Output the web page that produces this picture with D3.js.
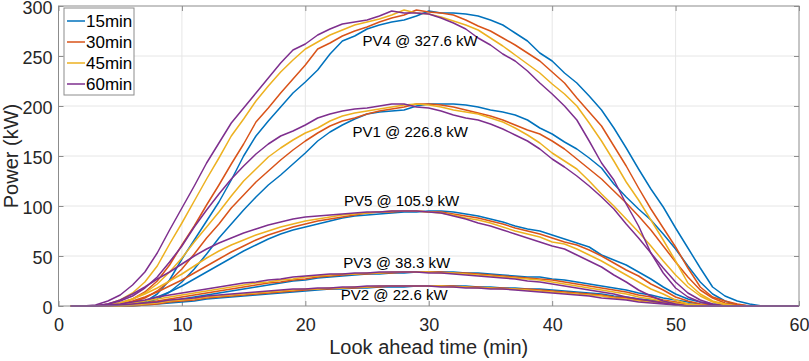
<!DOCTYPE html>
<html>
<head>
<meta charset="utf-8">
<script src="https://cdn.jsdelivr.net/npm/d3@7"></script>
<style>
  body { margin: 0; background: #fff; }
  svg { display: block; }
</style>
</head>
<body>
<div id="chart"></div>
<script>
// look ahead time (min)
const minutes = [1,2,3,4,5,6,7,8,9,10,11,12,13,14,15,16,17,18,19,20,21,22,23,24,25,26,27,28,29,30,
  31,32,33,34,35,36,37,38,39,40,41,42,43,44,45,46,47,48,49,50,51,52,53,54,55,56,57,58,59,60];

// power (kW) per PV system and forecast horizon
const pv4_15 = [0,0,0,0,0,1,4,12,26,47, 66,85,104,126,150,170,185,199,213,224, 236,252,265,270,277,281,284,286,290,295,
  293,293,292,290,286,281,273,265,253,245, 233,223,210,196,178,158,137,117,99,78, 58,38,19,10,5,2,0,0,0,0];
const pv4_30 = [0,0,0,1,3,7,14,25,41,61, 80,101,121,142,162,184,198,213,227,241, 257,263,270,275,279,284,288,291,296,294,
  293,291,286,280,275,268,261,253,245,234, 223,208,194,180,160,140,118,97,78,59, 38,19,9,5,2,0,0,0,0,0];
const pv4_45 = [0,0,0,2,6,13,24,40,62,83, 105,127,148,170,187,205,220,234,246,257, 264,271,276,281,284,287,291,296,293,292,
  289,285,281,276,268,260,251,242,233,222, 212,200,183,165,145,124,106,86,66,45, 23,12,5,2,0,0,0,0,0,0];
const pv4_60 = [0,0,1,5,11,21,34,53,76,98, 120,143,163,183,198,213,228,243,256,262, 271,277,282,284,286,290,295,293,293,292,
  288,283,277,268,261,252,245,235,223,212, 200,186,165,143,126,102,80,53,33,18, 9,4,1,0,0,0,0,0,0,0];

const pv1_15 = [0,0,0,0,0,1,3,7,14,24, 37,52,68,82,96,109,121,131,142,153, 165,174,181,187,192,194,195,196,200,202,
  202,202,201,199,196,194,191,186,178,172, 164,157,148,138,122,109,97,86,72,57, 40,24,12,5,1,0,0,0,0,0];
const pv1_30 = [0,0,0,0,1,4,8,15,25,37, 52,68,82,98,111,124,135,146,156,165, 173,180,185,188,192,195,197,199,202,202,
  201,199,196,193,190,186,181,176,172,165, 157,147,137,127,115,103,90,76,60,44, 29,16,8,3,1,0,0,0,0,0];
const pv1_45 = [0,0,0,1,3,7,13,22,34,48, 64,79,94,110,125,137,149,158,166,173, 178,185,190,193,195,197,199,201,202,201,
  199,196,194,192,188,184,178,171,163,153, 145,137,125,112,100,87,74,60,45,31, 19,10,4,1,0,0,0,0,0,0];
const pv1_60 = [0,0,0,2,5,10,18,29,44,60, 79,96,112,127,140,152,162,170,175,181, 188,192,195,197,198,200,202,202,199,198,
  195,191,188,186,182,177,171,165,157,147, 139,130,120,109,97,82,68,53,38,24, 13,6,2,0,0,0,0,0,0,0];

const pv5_15 = [0,0,0,0,0,2,5,9,14,20, 27,34,41,48,55,61,67,72,76,79, 82,85,88,90,91,92,93,94,94,95,
  95,94,92,90,87,84,80,77,75,71, 67,63,59,51,46,41,34,27,19,12, 7,4,2,1,0,0,0,0,0,0];
const pv5_30 = [0,0,0,0,2,5,9,14,20,26, 33,40,47,54,60,66,71,75,79,82, 85,87,89,91,93,94,94,95,95,94,
  94,92,90,88,85,82,78,75,72,68, 64,61,56,50,43,36,30,22,16,9, 5,2,1,0,0,0,0,0,0,0];
const pv5_45 = [0,0,0,1,3,7,12,18,25,32, 40,48,55,61,66,71,75,79,82,85, 87,89,91,92,93,94,95,95,95,94,
  93,91,88,86,83,79,75,72,69,64, 62,57,51,45,38,31,24,17,12,6, 2,1,0,0,0,0,0,0,0,0];
const pv5_60 = [0,0,0,2,6,12,19,27,34,42, 50,57,63,68,73,77,81,84,87,89, 90,91,92,93,94,94,95,95,95,94,
  93,90,87,83,80,76,72,68,64,60, 57,51,45,39,31,24,16,10,5,2, 0,0,0,0,0,0,0,0,0,0];

const pv3_15 = [0,0,0,0,0,1,2,4,5,7, 9,11,13,15,17,19,21,23,25,26, 28,29,30,31,32,32,33,33,34,34,
  34,34,33,33,32,31,30,29,29,27, 26,24,22,20,18,16,13,11,8,6, 4,2,1,0,0,0,0,0,0,0];
const pv3_30 = [0,0,0,0,0,2,3,5,7,9, 11,13,15,17,19,21,23,24,26,27, 29,30,31,32,32,33,33,34,34,34,
  34,33,33,32,31,30,29,28,27,26, 24,22,20,18,16,14,11,9,6,4, 2,1,0,0,0,0,0,0,0,0];
const pv3_45 = [0,0,0,0,1,3,5,7,9,11, 13,15,17,19,21,23,24,26,27,29, 30,31,32,32,33,33,34,34,34,34,
  33,33,32,31,30,29,28,27,26,24, 22,20,18,16,14,12,9,7,5,3, 1,0,0,0,0,0,0,0,0,0];
const pv3_60 = [0,0,0,1,2,4,6,9,11,13, 15,17,19,21,23,24,26,27,29,30, 31,32,32,33,33,34,34,34,34,33,
  33,32,31,30,29,28,27,25,24,22, 20,18,16,14,12,9,7,5,3,1, 0,0,0,0,0,0,0,0,0,0];

const pv2_15 = [0,0,0,0,0,0,1,2,3,4, 5,7,8,9,10,11,12,13,14,15, 16,17,17,18,18,19,19,19,20,20,
  20,20,20,19,19,18,18,17,17,16, 15,14,13,12,10,9,7,6,4,3, 2,1,0,0,0,0,0,0,0,0];
const pv2_30 = [0,0,0,0,0,0,1,2,4,5, 6,8,9,10,11,12,13,14,15,16, 17,17,18,18,19,19,20,20,20,20,
  20,20,19,19,18,18,17,17,16,15, 14,13,12,11,9,8,6,5,4,2, 1,1,0,0,0,0,0,0,0,0];
const pv2_45 = [0,0,0,0,0,1,2,3,5,6, 7,9,10,11,12,13,14,15,16,17, 17,18,18,19,19,20,20,20,20,20,
  20,19,19,18,18,17,17,16,15,14, 13,12,11,10,8,7,5,4,3,2, 1,0,0,0,0,0,0,0,0,0];
const pv2_60 = [0,0,0,0,1,2,3,4,6,7, 8,10,11,12,13,14,15,16,17,17, 18,18,19,19,20,20,20,20,20,20,
  19,19,18,18,17,17,16,15,14,13, 12,11,10,8,7,6,4,3,2,1, 0,0,0,0,0,0,0,0,0,0];

const horizons = ['15min', '30min', '45min', '60min'];
const colors = ['#0072BD', '#D95319', '#EDB120', '#7E2F8E'];
const seriesByHorizon = [
  [pv4_15, pv1_15, pv5_15, pv3_15, pv2_15],
  [pv4_30, pv1_30, pv5_30, pv3_30, pv2_30],
  [pv4_45, pv1_45, pv5_45, pv3_45, pv2_45],
  [pv4_60, pv1_60, pv5_60, pv3_60, pv2_60]
];

const xTicks = [0, 10, 20, 30, 40, 50, 60];
const yTicks = [0, 50, 100, 150, 200, 250, 300];

// curve annotations (placed in data units)
const pvLabels = ['PV4 @ 327.6 kW', 'PV1 @ 226.8 kW', 'PV5 @ 105.9 kW', 'PV3 @ 38.3 kW', 'PV2 @ 22.6 kW'];
const pvLabelMin = [29.3, 28.5, 27.8, 27.4, 27.2];
const pvLabelKw = [260, 169, 100, 38, 6.5];

const W = 809, H = 361;
const margin = { top: 6, right: 10, bottom: 55, left: 58.5 };
const FONT = "'Liberation Sans', Arial, Helvetica, sans-serif";

const svg = d3.select('#chart').append('svg')
  .attr('width', W).attr('height', H)
  .style('font-family', FONT);

const x = d3.scaleLinear().domain([0, 60]).range([margin.left, W - margin.right]);
const y = d3.scaleLinear().domain([0, 300]).range([H - margin.bottom, margin.top]);

// grid
svg.append('g').selectAll('line.vg')
  .data(xTicks.slice(1, -1)).join('line')
  .attr('x1', d => x(d)).attr('x2', d => x(d))
  .attr('y1', y(0)).attr('y2', y(300))
  .attr('stroke', '#e6e6e6').attr('stroke-width', 1);
svg.append('g').selectAll('line.hg')
  .data(yTicks.slice(1, -1)).join('line')
  .attr('x1', x(0)).attr('x2', x(60))
  .attr('y1', d => y(d)).attr('y2', d => y(d))
  .attr('stroke', '#e6e6e6').attr('stroke-width', 1);

// axes (ticks pointing inward)
function styleAxis(g, showText) {
  g.select('.domain').remove();
  g.selectAll('.tick line').attr('stroke', '#8c8c8c');
  g.selectAll('.tick text').attr('fill', '#262626').style('font-size', '18px')
    .style('display', showText ? null : 'none');
}
svg.append('g').attr('transform', `translate(0,${y(0)})`)
  .call(d3.axisBottom(x).tickValues(xTicks).tickSize(-5).tickPadding(12))
  .call(g => styleAxis(g, true));
svg.append('g').attr('transform', `translate(0,${y(300)})`)
  .call(d3.axisTop(x).tickValues(xTicks).tickSize(-5))
  .call(g => styleAxis(g, false));
svg.append('g').attr('transform', `translate(${x(0)},0)`)
  .call(d3.axisLeft(y).tickValues(yTicks).tickSize(-5).tickPadding(6))
  .call(g => styleAxis(g, true))
  .call(g => g.selectAll('.tick text').attr('dy', '0.44em'));
svg.append('g').attr('transform', `translate(${x(60)},0)`)
  .call(d3.axisRight(y).tickValues(yTicks).tickSize(-5))
  .call(g => styleAxis(g, false));

// lines
const line = d3.line()
  .x((d, i) => x(minutes[i]))
  .y(d => y(d));

seriesByHorizon.forEach((group, hi) => {
  svg.append('g').selectAll('path')
    .data(group).join('path')
    .attr('d', line)
    .attr('fill', 'none')
    .attr('stroke', colors[hi])
    .attr('stroke-width', 1.5)
    .attr('stroke-linejoin', 'round');
});

// axes box
svg.append('rect')
  .attr('x', x(0)).attr('y', y(300))
  .attr('width', x(60) - x(0)).attr('height', y(0) - y(300))
  .attr('fill', 'none').attr('stroke', '#8c8c8c').attr('stroke-width', 1);

// curve labels
svg.append('g').selectAll('text')
  .data(pvLabels).join('text')
  .attr('x', (d, i) => x(pvLabelMin[i]))
  .attr('y', (d, i) => y(pvLabelKw[i]))
  .attr('text-anchor', 'middle')
  .attr('fill', '#000')
  .style('font-size', '15px')
  .text(d => d);

// axis titles
svg.append('text')
  .attr('x', (x(0) + x(60)) / 2).attr('y', 354)
  .attr('text-anchor', 'middle').attr('fill', '#262626')
  .style('font-size', '20px')
  .text('Look ahead time (min)');
svg.append('text')
  .attr('transform', `translate(18,${(y(0) + y(300)) / 2}) rotate(-90)`)
  .attr('text-anchor', 'middle').attr('fill', '#262626')
  .style('font-size', '20px')
  .text('Power (kW)');

// legend
const legend = svg.append('g').attr('transform', 'translate(64,8)');
legend.append('rect')
  .attr('width', 70).attr('height', 87)
  .attr('fill', '#fff').attr('stroke', '#8c8c8c').attr('stroke-width', 1);
const items = legend.selectAll('g.item')
  .data(horizons).join('g')
  .attr('transform', (d, i) => `translate(0,${13 + i * 21})`);
items.append('line')
  .attr('x1', 3).attr('x2', 21)
  .attr('stroke', (d, i) => colors[i]).attr('stroke-width', 1.5);
items.append('text')
  .attr('x', 22).attr('dy', '0.36em')
  .attr('fill', '#000')
  .style('font-size', '17px')
  .text(d => d);
</script>
</body>
</html>
